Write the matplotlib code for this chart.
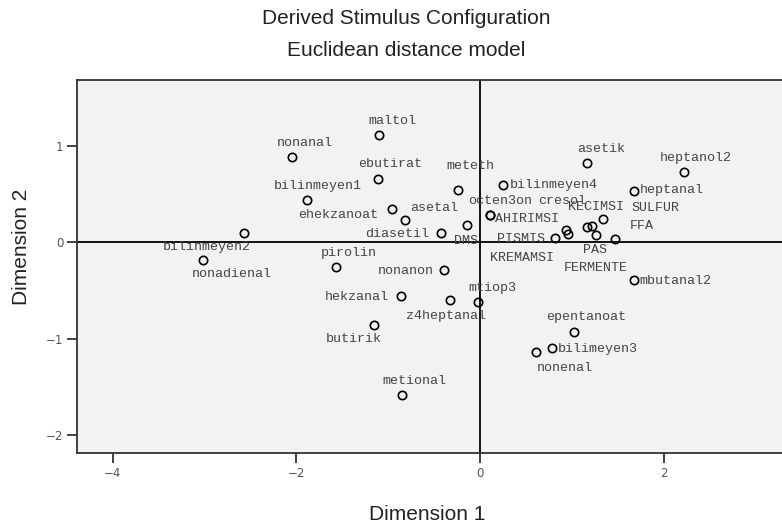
import matplotlib
matplotlib.use("Agg")
import matplotlib.pyplot as plt

# stimulus coordinates
names = ["maltol", "nonanal", "ebutirat", "meteth", "bilinmeyen1", "ehekzanoat",
         "asetal", "DMS", "diasetil", "bilinmeyen2", "nonadienal", "pirolin",
         "nonanon", "hekzanal", "z4heptanal", "mtiop3", "butirik", "metional",
         "asetik", "heptanol2", "bilinmeyen4", "heptanal", "octen3on", "AHIRIMSI",
         "PISMIS", "KREMAMSI", "cresol", "KECIMSI", "FERMENTE", "SULFUR", "PAS",
         "FFA", "mbutanal2", "epentanoat", "bilimeyen3", "nonenal"]
dim1 = [-1.097, -2.048, -1.108, -0.243, -1.888, -0.955,
        -0.817, -0.145, -0.425, -2.567, -3.021, -1.572,
        -0.392, -0.864, -0.323, -0.022, -1.155, -0.846,
        1.166, 2.219, 0.247, 1.681, 0.105, 0.109,
        0.817, 0.937, 0.959, 1.162, 1.220, 1.343, 1.260,
        1.474, 1.681, 1.028, 0.784, 0.606]
dim2 = [1.119, 0.890, 0.661, 0.544, 0.440, 0.346,
        0.232, 0.180, 0.096, 0.094, -0.183, -0.256,
        -0.289, -0.559, -0.601, -0.621, -0.860, -1.590,
        0.821, 0.728, 0.599, 0.533, 0.282, 0.280,
        0.041, 0.128, 0.083, 0.162, 0.172, 0.239, 0.076,
        0.034, -0.389, -0.930, -1.101, -1.141]

# label offsets from each point, in pixels (x right, y up)
label_off = [(13, 14), (13, 14), (12, 15), (13, 24), (11, 14), (-54, -6),
             (29, 12), (-1, -16), (-44, -1), (-38, -14), (29, -14), (13, 14),
             (-38, -1), (-44, -1), (-4, -16), (14, 14), (-20, -14), (12, 14),
             (14, 14), (12, 14), (51, 0), (37, 1), (10, 14), (37, -4),
             (-34, -1), (-44, -28), (-6, 33), (9, 20), (4, -42), (52, 11), (-1, -15),
             (26, 13), (41, -1), (12, 15), (46, -1), (29, -16)]

xticks = [-4, -2, 0, 2]
yticks = [-2, -1, 0, 1]

fig = plt.figure(figsize=(7.82, 5.28), dpi=100)
ax = fig.add_axes([77.3 / 782, 1 - 453.3 / 528, 1 - 77.3 / 782, (453.3 - 80) / 528])
ax.set_facecolor("#f2f2f2")

ax.axhline(0, color="black", lw=1.3, zorder=1)
ax.axvline(0, color="black", lw=1.3, zorder=1)

ax.plot(dim1, dim2, linestyle="none", marker="o", markersize=6,
        markerfacecolor="none", markeredgecolor="black", markeredgewidth=1.2, zorder=3)

for nm, x, y, off in zip(names, dim1, dim2, label_off):
    ax.annotate(nm, (x, y), xytext=off, textcoords="offset pixels",
                ha="center", va="center", fontsize=9.6, color="#444444",
                family="Liberation Mono", zorder=2)

ax.set_xlim(-4.387, 3.29)
ax.set_ylim(-2.193, 1.687)
ax.set_xticks(xticks)
ax.set_yticks(yticks)
ax.tick_params(direction="out", length=7, width=1.3, color="#333333",
               labelsize=8.5, labelcolor="#555555", pad=3)
for s in ["left", "bottom", "top"]:
    ax.spines[s].set_linewidth(1.3)
    ax.spines[s].set_color("#333333")
ax.spines["right"].set_visible(False)

fig.text(406 / 782, 1 - 18 / 528, "Derived Stimulus Configuration", ha="center", va="center",
         fontsize=15, color="#222222", family="Liberation Sans")
fig.text(406 / 782, 1 - 50 / 528, "Euclidean distance model", ha="center", va="center",
         fontsize=15, color="#222222", family="Liberation Sans")
fig.text(427 / 782, 1 - 515 / 528, "Dimension 1", ha="center", va="center",
         fontsize=15, color="#222222", family="Liberation Sans")
fig.text(22 / 782, 1 - 247 / 528, "Dimension 2", ha="center", va="center", rotation=90,
         fontsize=15, color="#222222", family="Liberation Sans")

fig.savefig("out.png", dpi=100)
